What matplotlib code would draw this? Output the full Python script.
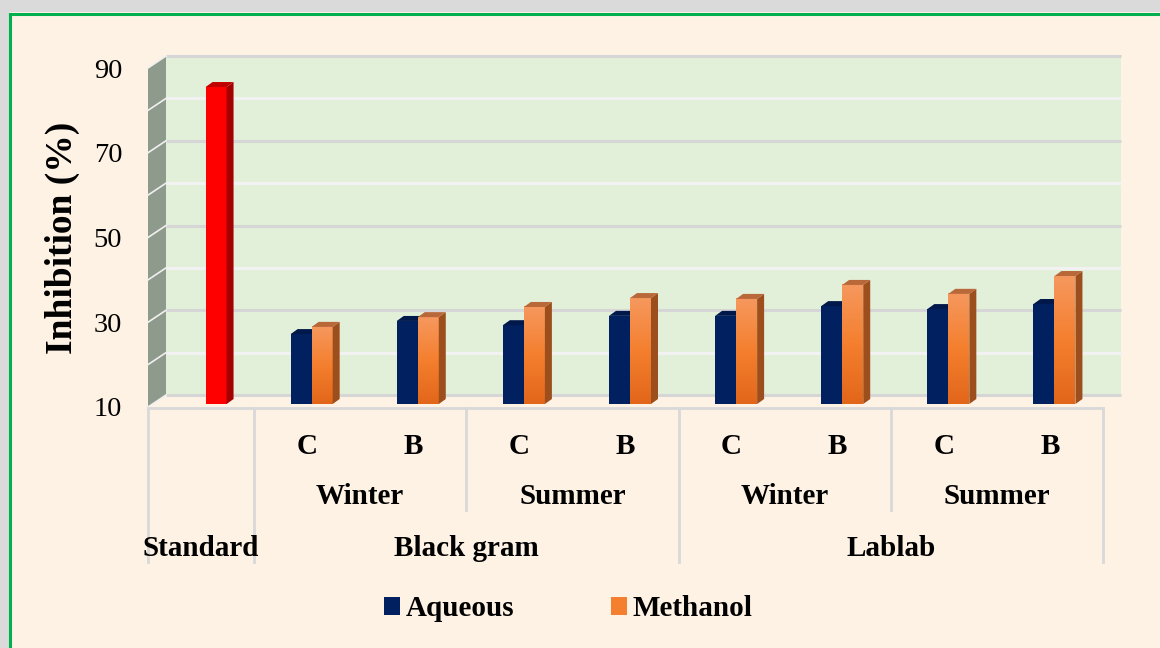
import numpy as np
import matplotlib
matplotlib.use("Agg")
import matplotlib.pyplot as plt
from matplotlib.patches import Polygon, Rectangle, Patch
from matplotlib.lines import Line2D
from matplotlib.colors import LinearSegmentedColormap

plt.rcParams['font.family'] = ['Liberation Serif', 'DejaVu Serif']

# data
varieties = ["", "C", "B", "C", "B", "C", "B", "C", "B"]
seasons = ["Winter", "Summer", "Winter", "Summer"]
crops = ["Standard", "Black gram", "Lablab"]
aqueous = [np.nan, 26.5, 29.6, 28.6, 30.8, 30.8, 33.1, 32.4, 33.6]
methanol = [84.8, 28.2, 30.5, 32.9, 35.0, 34.8, 38.1, 36.0, 40.2]
yticks = [10, 30, 50, 70, 90]

W, H = 1160, 648
fig = plt.figure(figsize=(W / 100, H / 100), dpi=100, facecolor='#FEF2E4')

def fx(px):
    return px / W

def fy(py):
    return 1 - py / H

# frame: grey shadow and green border
fig.add_artist(Rectangle((0, fy(12)), 1, 12 / H, transform=fig.transFigure,
                         fc='#DADADA', ec='none'))
fig.add_artist(Rectangle((0, 0), 9 / W, 1, transform=fig.transFigure,
                         fc='#DADADA', ec='none'))
fig.add_artist(Line2D([fx(10), 1], [fy(14), fy(14)], transform=fig.transFigure,
                      color='#00B050', lw=2.2))
fig.add_artist(Line2D([fx(10), fx(10)], [fy(14), 0], transform=fig.transFigure,
                      color='#00B050', lw=2.2))

ax = fig.add_axes([fx(148), fy(407), 955 / W, 339 / H])
n = len(methanol)
ax.set_xlim(0, n)
ax.set_ylim(10, 90)
ax.patch.set_visible(False)
for s in ax.spines.values():
    s.set_visible(False)

ux = n / 955.0
uy = 80 / 339.0
wdx, wdy = 18 * ux, 12 * uy      # wall depth
bdx, bdy = 4.5 * ux, 3 * uy      # bar plane offset
ddx, ddy = 7 * ux, 5 * uy        # bar depth
bw = 21 * ux

# back wall, side wall and gridlines
ax.add_patch(Rectangle((wdx, 10 + wdy), n, 80, fc='#E3F0D9', ec='none',
                       zorder=0, clip_on=False))
ax.add_patch(Polygon([(0, 10), (wdx, 10 + wdy), (wdx, 90 + wdy), (0, 90)],
                     closed=True, fc='#8E9A8B', ec='none', zorder=0.5, clip_on=False))
for v in range(10, 91, 10):
    major = v in yticks
    ax.plot([wdx, n + wdx], [v + wdy, v + wdy], color='#D6D6D6' if major else '#F2F2F2',
            lw=2.2, zorder=0.8, clip_on=False, solid_capstyle='butt')
    ax.plot([0, wdx], [v, v + wdy], color='#F0F0F0', lw=1.2, zorder=0.9, clip_on=False)

centers = np.arange(n) + 0.5
orange = LinearSegmentedColormap.from_list('orng', ['#E2661A', '#F47F2E', '#F6985E'])
grad = np.linspace(0, 1, 256).reshape(-1, 1)


def draw_bar(x0, top, front, side, topc, z, gradient=False):
    x1 = x0 + bw
    base = 10 + bdy
    t = top + bdy
    if gradient:
        ax.imshow(grad, extent=(x0, x1, base, t), origin='lower', aspect='auto',
                  cmap=orange, zorder=z, clip_on=False)
    else:
        ax.bar(x0, t - base, width=bw, bottom=base, align='edge', color=front,
               zorder=z, clip_on=False, lw=0)
    ax.add_patch(Polygon([(x1, base), (x1, t), (x1 + ddx, t + ddy), (x1 + ddx, base + ddy)],
                         closed=True, fc=side, ec='none', zorder=z, clip_on=False))
    ax.add_patch(Polygon([(x0, t), (x1, t), (x1 + ddx, t + ddy), (x0 + ddx, t + ddy)],
                         closed=True, fc=topc, ec='none', zorder=z, clip_on=False))


for i in range(n):
    z = 2 + i * 0.1
    if not np.isnan(aqueous[i]):
        draw_bar(centers[i] + bdx - bw, aqueous[i], '#002060', '#001A4F', '#00184A', z)
    if i == 0:
        draw_bar(centers[i] + bdx, methanol[i], '#FF0000', '#A50000', '#C00000', z + 0.05)
    else:
        draw_bar(centers[i] + bdx, methanol[i], None, '#9C4F1D', '#B9683A', z + 0.05,
                 gradient=True)

ax.set_xlim(0, n)
ax.set_ylim(10, 90)
ax.set_xticks([])
ax.set_yticks(yticks)
ax.tick_params(axis='y', length=0, pad=18.5, labelsize=20.5)

# category table below the plot
bt = ax.get_xaxis_transform()

def yf(py):
    return (407 - py) / 339.0

line_kw = dict(color='#D9D9D9', lw=2, transform=bt, clip_on=False)
ax.plot([0, n], [yf(408), yf(408)], **line_kw)
for xs in [0, 1, 5, 9]:
    ax.plot([xs, xs], [yf(408), yf(562)], **line_kw)
for xs in [3, 7]:
    ax.plot([xs, xs], [yf(408), yf(510)], **line_kw)

txt_kw = dict(transform=bt, ha='center', va='center', fontsize=21, fontweight='bold')
for i, lab in enumerate(varieties):
    if lab:
        ax.text(centers[i], yf(446), lab, **txt_kw)
for k, lab in enumerate(seasons):
    ax.text(1 + 2 * k + 1, yf(496), lab, **txt_kw)
crop_pos = [0.5, 3, 7]
for k, lab in enumerate(crops):
    ax.text(crop_pos[k], yf(549), lab, **txt_kw)

fig.text(fx(62), fy(238), 'Inhibition (%)', rotation=90, ha='center', va='center',
         fontsize=27, fontweight='bold')

handles = [Patch(fc='#002060', ec='none'), Patch(fc='#F47F2E', ec='none')]
fig.legend(handles, ['Aqueous', 'Methanol'], loc='center',
           bbox_to_anchor=(fx(568), fy(609)), ncol=2, frameon=False,
           prop={'size': 21, 'weight': 'bold'}, handlelength=0.55, handleheight=0.55,
           handletextpad=0.2, columnspacing=3.3)

fig.savefig('out.png', dpi=100, facecolor=fig.get_facecolor())
